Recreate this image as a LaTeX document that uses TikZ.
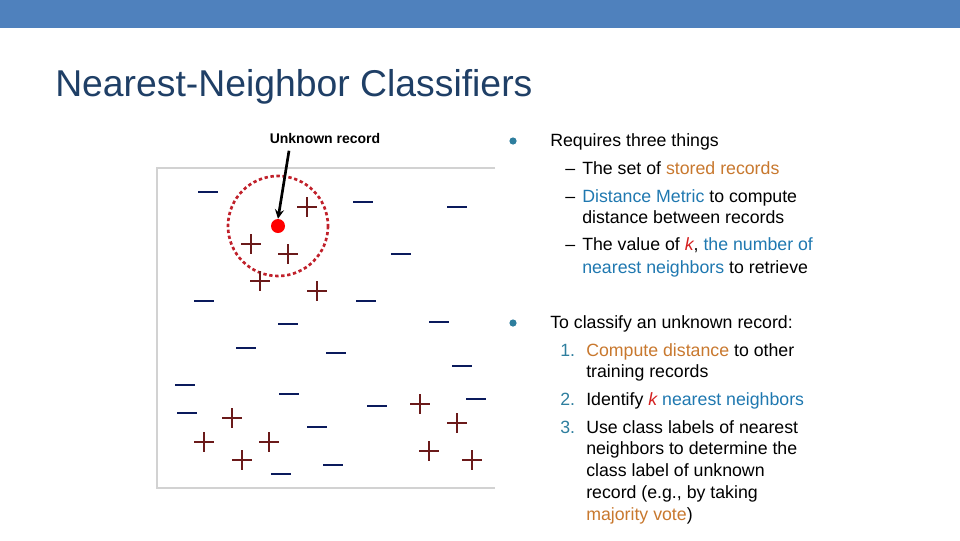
\documentclass[tikz,border=0pt]{standalone}
\usepackage{fontspec}
\setmainfont{Liberation Sans}
\begin{document}
\begin{tikzpicture}[x=0.75pt,y=-0.75pt,
  txt/.style={anchor=base west,inner sep=0pt,font=\fontsize{13.3}{16}\selectfont},
  minus/.style={draw=minuscol,line width=2pt},
  plus/.style={draw=pluscol,line width=1.1pt}]
\definecolor{barblue}{HTML}{4F81BD}
\definecolor{titleblue}{HTML}{1F3F66}
\definecolor{oran}{HTML}{C8782E}
\definecolor{blu}{HTML}{1F78B0}
\definecolor{kred}{HTML}{D42020}
\definecolor{teal}{HTML}{2E7E9E}
\definecolor{minuscol}{HTML}{0A1A5C}
\definecolor{pluscol}{HTML}{6B1A1A}
\definecolor{circred}{HTML}{C0202A}
\useasboundingbox (0,0) rectangle (960,540);
\fill[barblue] (0,0) rectangle (960,28);
\node[anchor=base west,inner sep=0pt,text=titleblue,font=\fontsize{28}{33}\selectfont] (title) at (55,96) {Nearest-Neighbor Classifiers};
% plot frame
\draw[gray!35,line width=0.8pt] (495,168) -- (157,168) -- (157,488) -- (495,488);
\node[font=\bfseries\fontsize{10.5}{12}\selectfont,inner sep=1pt] (lab) at (325,138) {Unknown record};
\draw[circred,line width=2pt,dash pattern=on 2.5pt off 2pt] (278,226) circle[radius=50];
\node[circle,fill=red,minimum size=14*0.75pt,inner sep=0pt] (dot) at (278,226) {};
\draw[-stealth,line width=2pt] (lab.south -| 289,0) ++(0,6) coordinate (a0) (a0) -- (dot.north);
\foreach \x/\y in {208/192,363/202,457/207,401/254,204/301,366/301,288/324,439/322,246/348,336/353,462/366,185/385,289/394,187/413,377/406,476/399,317/427,333/465,281/474}
  \draw[minus] (\x-10,\y) -- (\x+10,\y);
\foreach \x/\y in {307/207,251/244,288/254,260/281,317/291,420/404,457/423,232/418,204/442,269/442,242/460,429/451,472/460}
  \draw[plus] (\x-10,\y) -- (\x+10,\y) (\x,\y-10) -- (\x,\y+10);
% text
\fill[teal] (513,141) circle[radius=3.6];
\node[txt] (t1) at (550,146) {Requires three things};
\node[txt] at (565,174) {--};
\node[txt] (t2) at (582,174) {The set of \textcolor{oran}{stored records}};
\node[txt] at (565,202) {--};
\node[txt] (t3) at (582,202) {\textcolor{blu}{Distance Metric} to compute};
\node[txt] (t3b) at (582,223) {distance between records};
\node[txt] at (565,250) {--};
\node[txt] (t4) at (582,250) {The value of \textcolor{kred}{\itshape k}, \textcolor{blu}{the number of}};
\node[txt] (t4b) at (582,273) {\textcolor{blu}{nearest neighbors} to retrieve};
\fill[teal] (513,323) circle[radius=3.6];
\node[txt] (t5) at (550,328) {To classify an unknown record:};
\node[txt,text=teal] at (560,356) {1.};
\node[txt] (t6) at (586,356) {\textcolor{oran}{Compute distance} to other};
\node[txt] (t6b) at (586,377) {training records};
\node[txt,text=teal] at (560,405) {2.};
\node[txt] (t7) at (586,405) {Identify \textcolor{kred}{\itshape k} \textcolor{blu}{nearest neighbors}};
\node[txt,text=teal] at (560,433) {3.};
\node[txt] (t8) at (586,433) {Use class labels of nearest};
\node[txt] at (586,454) {neighbors to determine the};
\node[txt] at (586,476) {class label of unknown};
\node[txt] at (586,498) {record (e.g., by taking};
\node[txt] at (586,520) {\textcolor{oran}{majority vote})};
\end{tikzpicture}
\end{document}
